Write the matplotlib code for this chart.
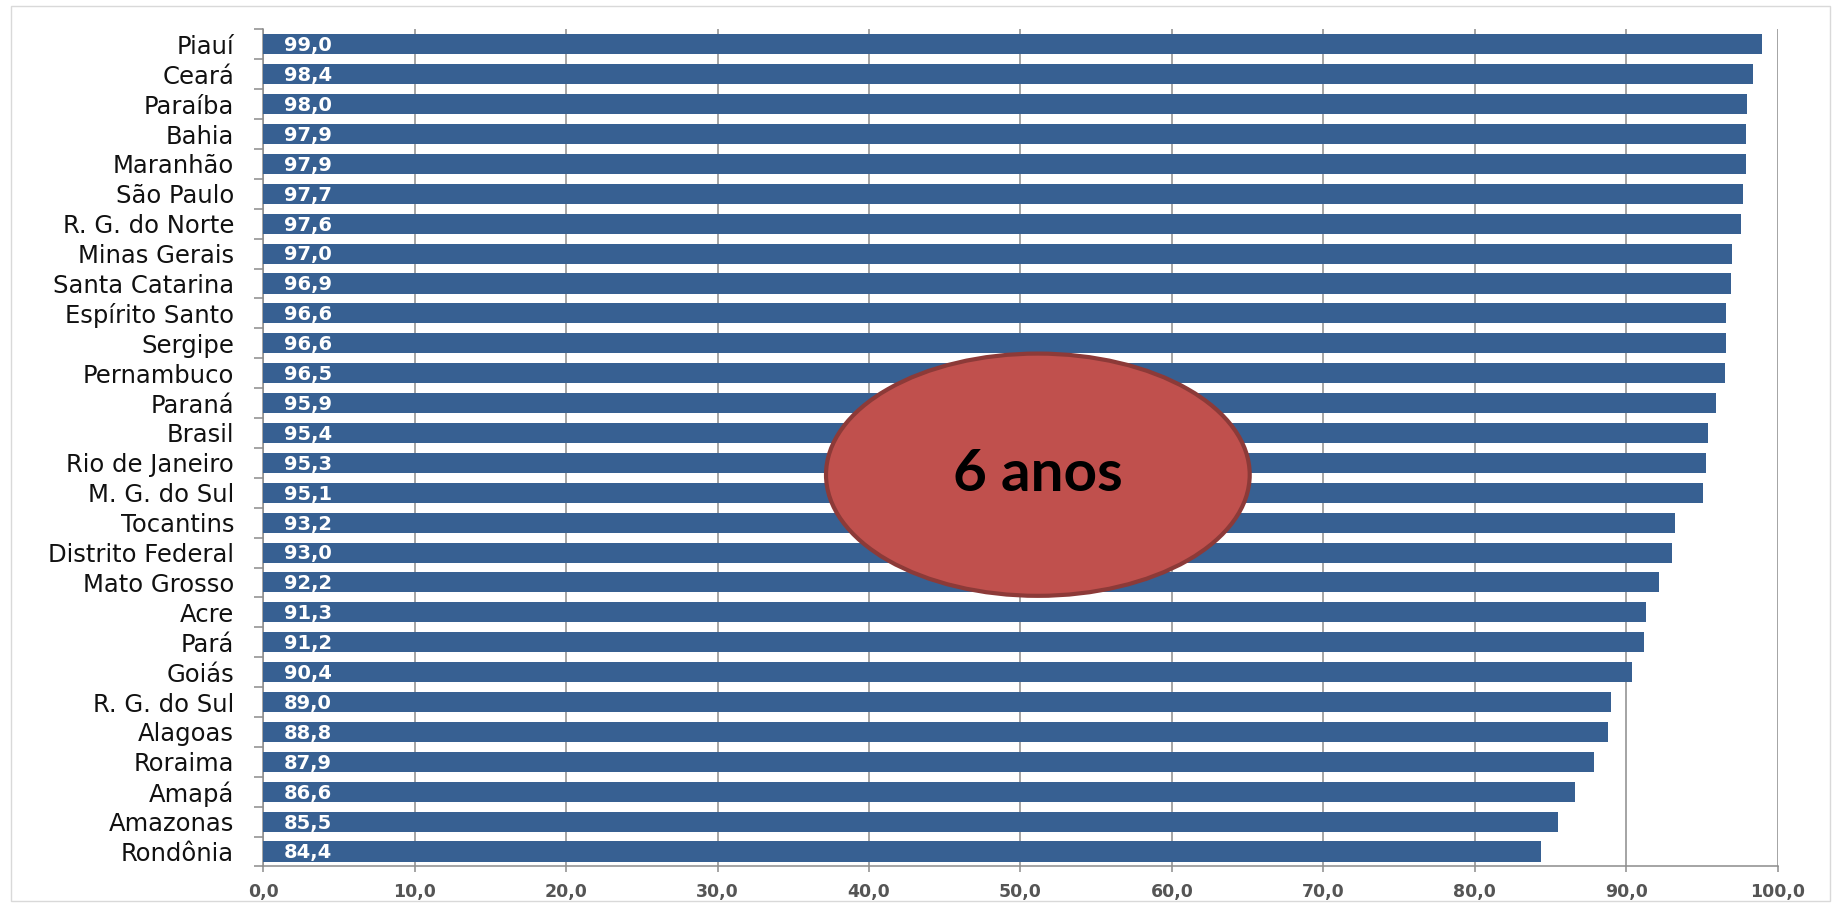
import matplotlib.pyplot as plt
from matplotlib.patches import Ellipse, Rectangle
import numpy as np

# Datos: tasa por estado (6 anos)
estados = ["Piauí", "Ceará", "Paraíba", "Bahia", "Maranhão", "São Paulo",
           "R. G. do Norte", "Minas Gerais", "Santa Catarina", "Espírito Santo",
           "Sergipe", "Pernambuco", "Paraná", "Brasil", "Rio de Janeiro",
           "M. G. do Sul", "Tocantins", "Distrito Federal", "Mato Grosso", "Acre",
           "Pará", "Goiás", "R. G. do Sul", "Alagoas", "Roraima", "Amapá",
           "Amazonas", "Rondônia"]
valores = [99.0, 98.4, 98.0, 97.9, 97.9, 97.7, 97.6, 97.0, 96.9, 96.6,
           96.6, 96.5, 95.9, 95.4, 95.3, 95.1, 93.2, 93.0, 92.2, 91.3,
           91.2, 90.4, 89.0, 88.8, 87.9, 86.6, 85.5, 84.4]
ticks_x = [0, 10, 20, 30, 40, 50, 60, 70, 80, 90, 100]
etiqueta = "6 anos"

azul = "#376092"
gris = "#8c8c8c"

fig = plt.figure(figsize=(18.36, 9.07), dpi=100)
ax = fig.add_axes([0.1434, 0.0447, 0.8248, 0.9229])

y = np.arange(len(estados))
ax.barh(y, valores, height=0.67, color=azul, zorder=3)

# valores dentro de las barras
for i, v in enumerate(valores):
    ax.annotate(f"{v:.1f}".replace(".", ","), xy=(0, i), xytext=(15, -1),
                textcoords="offset points", ha="left", va="center",
                color="white", fontsize=14, fontweight="bold",
                family="DejaVu Sans", zorder=4)

ax.set_xlim(0, 100)
ax.set_ylim(len(estados) - 0.5, -0.5)
ax.set_xticks(ticks_x)
ax.set_xticklabels([f"{t:.1f}".replace(".", ",") for t in ticks_x],
                   fontsize=12.5, fontweight="bold", color="#555555",
                   family="DejaVu Sans")
ax.set_yticks(y)
ax.set_yticklabels(estados, fontsize=17.5, family="DejaVu Sans", color="#111111")
ax.set_yticks(np.arange(-0.5, len(estados), 1), minor=True)

ax.tick_params(axis="y", which="major", length=0, pad=21)
ax.tick_params(axis="y", which="minor", length=6.5, width=1.1, color=gris)
ax.tick_params(axis="x", length=4, width=1.1, color=gris, pad=8)

ax.grid(axis="x", color=gris, linewidth=1.1, zorder=0)
for s in ["top", "right"]:
    ax.spines[s].set_visible(False)
for s in ["left", "bottom"]:
    ax.spines[s].set_color(gris)
    ax.spines[s].set_linewidth(1.1)

# elipse con el texto
elipse = Ellipse((0.5115, 0.468), 0.2798, 0.2894, transform=ax.transAxes,
                 facecolor="#c0504d", edgecolor="#8c3a38", linewidth=3, zorder=6)
ax.add_patch(elipse)
ax.text(0.5115, 0.468, etiqueta, transform=ax.transAxes, ha="center", va="center",
        fontsize=42, fontweight="bold", family="Lato", color="black", zorder=7)

# borde de la figura
fig.patches.append(Rectangle((11 / 1836, 6 / 907), 1819 / 1836, 895 / 907,
                             transform=fig.transFigure, fill=False,
                             edgecolor="#d9d9d9", linewidth=1))

fig.savefig("out.png", dpi=100)
